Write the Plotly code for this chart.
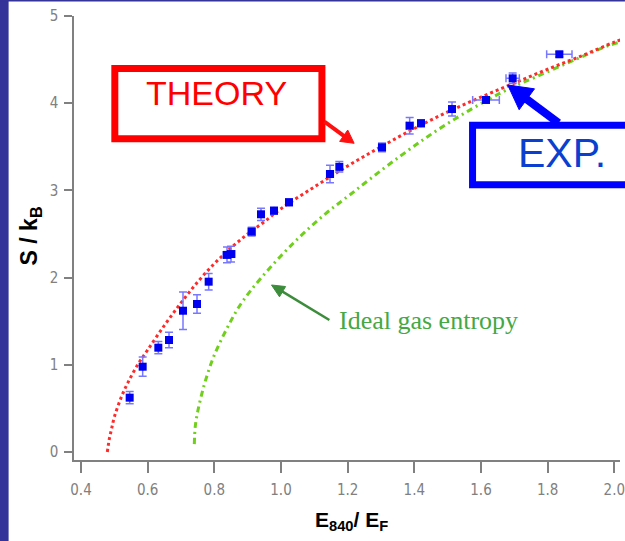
import math
import plotly.graph_objects as go

# ---------------- data ----------------
exp_x = [0.546, 0.585, 0.632, 0.664, 0.706, 0.748, 0.783, 0.838, 0.850, 0.912, 0.940,
         0.979, 1.024, 1.147, 1.175, 1.303, 1.386, 1.420, 1.513, 1.615, 1.695, 1.835]
exp_y = [0.623, 0.978, 1.196, 1.284, 1.620, 1.697, 1.953, 2.260, 2.270, 2.527, 2.726,
         2.767, 2.864, 3.188, 3.270, 3.494, 3.742, 3.770, 3.933, 4.037, 4.285, 4.561]
exp_yerr = [0.07, 0.11, 0.07, 0.09, 0.215, 0.105, 0.095, 0.09, 0.09, 0.05, 0.07,
            0.04, 0.04, 0.10, 0.06, 0.05, 0.095, 0.04, 0.08, 0.03, 0.06, 0.03]
exp_xerr = [0.0, 0.0, 0.0, 0.0, 0.0, 0.0, 0.0, 0.012, 0.012, 0.01, 0.0,
            0.0, 0.0, 0.01, 0.0, 0.01, 0.01, 0.0, 0.0, 0.04, 0.02, 0.038]

theory_x = [0.479, 0.485, 0.492, 0.50, 0.52, 0.54, 0.57, 0.60, 0.65, 0.70, 0.75, 0.80,
            0.85, 0.90, 0.95, 1.00, 1.10, 1.20, 1.30, 1.40, 1.50, 1.60, 1.70, 1.80,
            1.90, 2.00, 2.03]
theory_y = [0.00, 0.15, 0.27, 0.40, 0.62, 0.79, 1.00, 1.17, 1.45, 1.71, 1.95, 2.16,
            2.34, 2.50, 2.64, 2.79, 3.04, 3.28, 3.50, 3.71, 3.90, 4.07, 4.23, 4.39,
            4.54, 4.70, 4.74]

ideal_x = [0.740, 0.743, 0.751, 0.762, 0.774, 0.798, 0.838, 0.880, 0.942, 1.041,
           1.135, 1.190, 1.353, 1.497, 1.665, 1.764, 1.883, 1.987, 2.03]
ideal_y = [0.09, 0.30, 0.48, 0.66, 0.826, 1.093, 1.418, 1.70, 2.003, 2.41,
           2.737, 2.90, 3.38, 3.76, 4.13, 4.30, 4.50, 4.667, 4.71]

x_ticks = [0.4, 0.6, 0.8, 1.0, 1.2, 1.4, 1.6, 1.8, 2.0]
x_tick_labels = ["0.4", "0.6", "0.8", "1.0", "1.2", "1.4", "1.6", "1.8", "2.0"]
y_ticks = [0, 1, 2, 3, 4, 5]
y_tick_labels = ["0", "1", "2", "3", "4", "5"]

# ---------------- layout helpers (pixel -> paper) ----------------
W, H = 625, 541
PL, PT, PR, PB = 74, 16, 625, 460


def px(x):
    return (x - PL) / (PR - PL)


def py(y):
    return (PB - y) / (PB - PT)


def arrow(tail, tip, width, head_len, head_half, color):
    dx, dy = tip[0] - tail[0], tip[1] - tail[1]
    n = math.hypot(dx, dy)
    ux, uy = dx / n, dy / n
    bx, by = tip[0] - ux * head_len, tip[1] - uy * head_len
    nx, ny = -uy, ux
    p1 = (bx + nx * head_half, by + ny * head_half)
    p2 = (bx - nx * head_half, by - ny * head_half)
    sx, sy = tip[0] - ux * (head_len - 1), tip[1] - uy * (head_len - 1)
    shaft = dict(type="line", xref="paper", yref="paper",
                 x0=px(tail[0]), y0=py(tail[1]), x1=px(sx), y1=py(sy),
                 line=dict(color=color, width=width), layer="above")
    path = "M {} {} L {} {} L {} {} Z".format(px(tip[0]), py(tip[1]), px(p1[0]), py(p1[1]),
                                              px(p2[0]), py(p2[1]))
    head = dict(type="path", xref="paper", yref="paper", path=path,
                fillcolor=color, line=dict(color=color, width=1), layer="above")
    return [shaft, head]


fig = go.Figure()

fig.add_trace(go.Scatter(
    x=ideal_x, y=ideal_y, mode="lines",
    line=dict(color="#6fcf1a", width=3, dash="6px,4px,2px,4px", shape="spline"),
    hoverinfo="skip", showlegend=False))

fig.add_trace(go.Scatter(
    x=theory_x, y=theory_y, mode="lines",
    line=dict(color="#ff2a2a", width=3, dash="dot", shape="spline"),
    hoverinfo="skip", showlegend=False))

fig.add_trace(go.Scatter(
    x=exp_x, y=exp_y, mode="markers",
    marker=dict(symbol="square", size=8, color="#0000f0"),
    error_y=dict(type="data", array=exp_yerr, color="#7878ff", thickness=1.5, width=4),
    error_x=dict(type="data", array=exp_xerr, color="#7878ff", thickness=1.5, width=4),
    showlegend=False))

tick_font = dict(family="Liberation Sans Narrow, DejaVu Sans Condensed, Arial Narrow, sans-serif",
                 size=15, color="#808080")

fig.update_xaxes(range=[0.379, 2.017], tickvals=x_ticks, ticktext=x_tick_labels,
                 showline=True, linecolor="#808080", linewidth=1.5,
                 ticks="outside", ticklen=11, tickwidth=1.5, tickcolor="#808080",
                 showgrid=False, zeroline=False, tickfont=tick_font, ticklabelstandoff=4,
                 ticklabeloverflow="allow")
fig.update_yaxes(range=[-0.092, 5.0], tickvals=y_ticks, ticktext=y_tick_labels,
                 showline=True, linecolor="#808080", linewidth=1.5,
                 ticks="outside", ticklen=8, tickwidth=1.5, tickcolor="#808080",
                 showgrid=False, zeroline=False, tickfont=tick_font, ticklabelstandoff=3,
                 ticklabeloverflow="allow")

shapes = [
    # navy frame bands
    dict(type="rect", xref="paper", yref="paper", x0=px(-5), x1=px(8), y0=py(H + 5), y1=py(-5),
         fillcolor="#333399", line=dict(width=0), layer="above"),
    dict(type="rect", xref="paper", yref="paper", x0=px(-5), x1=px(W + 5), y0=py(1.5), y1=py(-5),
         fillcolor="#333399", line=dict(width=0), layer="above"),
    # THEORY box
    dict(type="rect", xref="paper", yref="paper", x0=px(115.2), x1=px(324.2), y0=py(138.8), y1=py(68.5),
         line=dict(color="#ff0000", width=7), fillcolor="rgba(0,0,0,0)", layer="above"),
    # EXP box
    dict(type="rect", xref="paper", yref="paper", x0=px(476.2), x1=px(660), y0=py(184.8), y1=py(125.2),
         line=dict(color="#0000ff", width=7), fillcolor="rgba(0,0,0,0)", layer="above"),
]
shapes += arrow((326.7, 121.7), (356.7, 143.3), 4, 13, 7, "#ff1010")
shapes += arrow((563.0, 123.0), (511.7, 85.0), 8, 24, 13, "#0000ff")
shapes += arrow((331.7, 320.0), (273.3, 285.0), 2.5, 13, 6, "#3c8c3c")

annotations = [
    dict(xref="paper", yref="paper", x=px(218), y=py(93), text="THEORY", showarrow=False,
         font=dict(family="Liberation Sans, Arial, sans-serif", size=34, color="#ff0000"),
         xanchor="center", yanchor="middle"),
    dict(xref="paper", yref="paper", x=px(566), y=py(153), text="EXP.", showarrow=False,
         font=dict(family="Liberation Sans, Arial, sans-serif", size=41, color="#0b3fd0"),
         xanchor="center", yanchor="middle"),
    dict(xref="paper", yref="paper", x=px(339), y=py(320), text="Ideal gas entropy", showarrow=False,
         font=dict(family="Liberation Serif, Times New Roman, serif", size=26, color="#44a844"),
         xanchor="left", yanchor="middle"),
    # axis titles
    dict(xref="paper", yref="paper", x=px(30), y=py(236), text="<b>S / k<sub>B</sub></b>",
         showarrow=False, textangle=-90, xanchor="center", yanchor="middle",
         font=dict(family="Liberation Sans, Arial, sans-serif", size=23, color="#000000")),
    dict(xref="paper", yref="paper", x=px(354), y=py(521), text="<b>E<sub>840</sub>/ E<sub>F</sub></b>",
         showarrow=False, xanchor="center", yanchor="middle",
         font=dict(family="Liberation Sans, Arial, sans-serif", size=21, color="#000000")),
]

fig.update_layout(
    width=W, height=H, autosize=False,
    margin=dict(l=PL, r=W - PR, t=PT, b=H - PB, pad=0),
    paper_bgcolor="#ffffff", plot_bgcolor="#ffffff",
    shapes=shapes, annotations=annotations, showlegend=False,
)

fig.write_html("out.html", config={"displayModeBar": False},
               post_script="document.body.style.margin='0';document.body.style.padding='0';")
